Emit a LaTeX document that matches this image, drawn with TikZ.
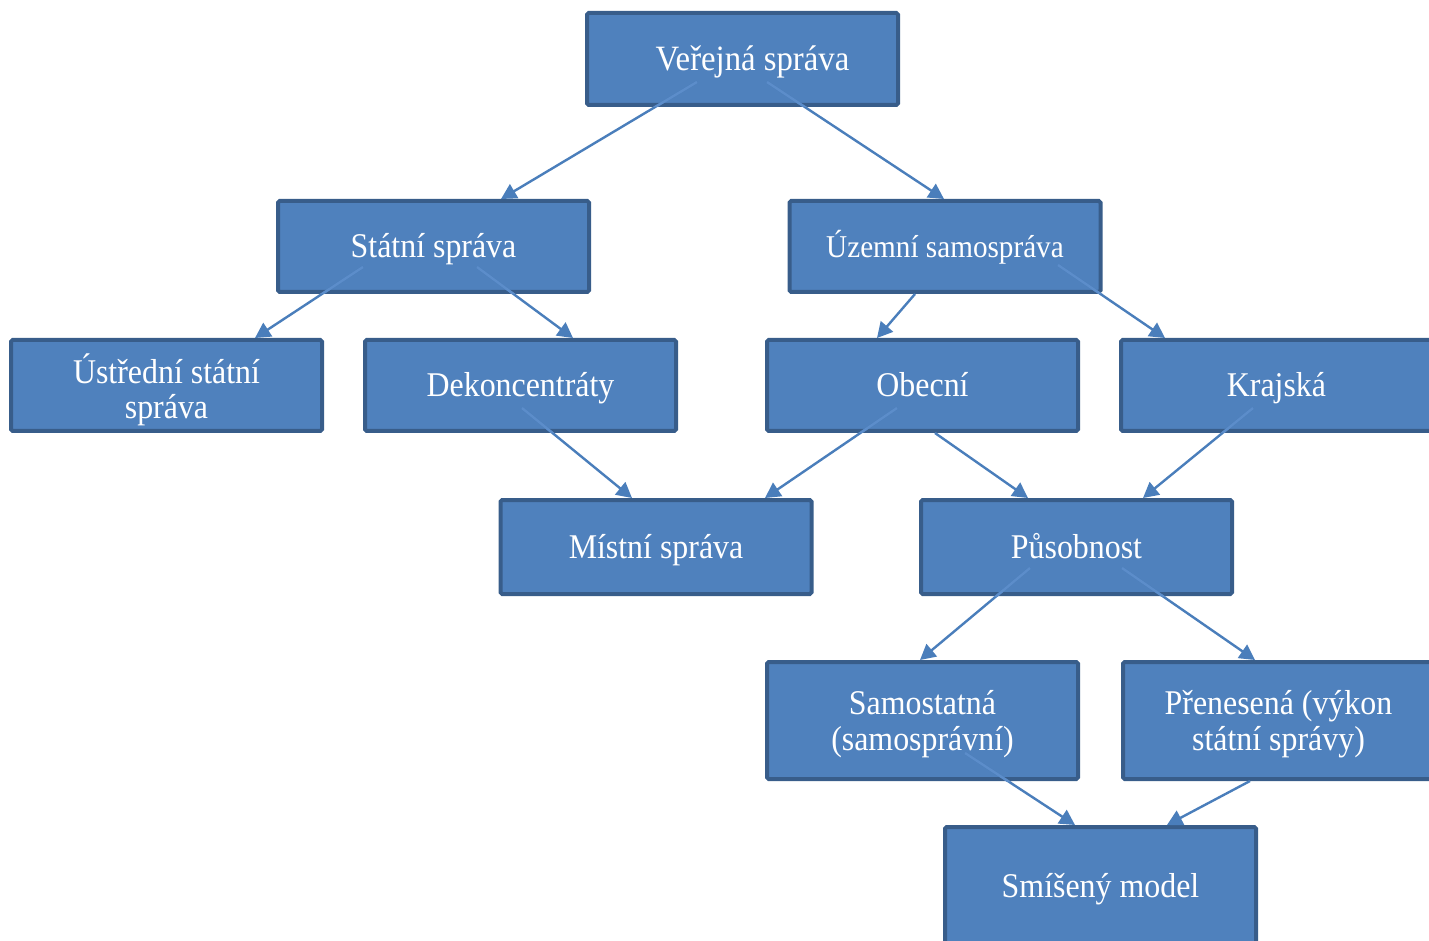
\documentclass[tikz,border=0pt]{standalone}
\usepackage{fontspec}
\setmainfont{Liberation Serif}
\newfontfamily\boxfont{Liberation Serif}[FakeStretch=0.92]
\usetikzlibrary{calc,arrows.meta}
\definecolor{boxfill}{HTML}{4F81BD}
\definecolor{boxline}{HTML}{385D8A}
\definecolor{conncol}{HTML}{4A7EBB}
\definecolor{innercol}{HTML}{5C8DCA}
\tikzset{
  orgbox/.style={draw=boxline, fill=boxfill, line width=3pt, rounded corners=1.2pt,
    text=white, align=center, inner sep=0pt,
    minimum width=233.25pt, minimum height=68.25pt,
    text height=20pt, text depth=2.75pt,
    font=\boxfont\fontsize{26pt}{27pt}\selectfont},
  tallbox/.style={orgbox, minimum height=87.75pt},
  twoline/.style={text height=47pt},
  conn/.style={draw=conncol, line width=1.8pt, -{Triangle[length=11.5pt,width=12pt]}},
  inseg/.style={draw=innercol, line width=1.8pt}
}
\begin{document}
\begin{tikzpicture}[x=0.75pt,y=-0.75pt]
\useasboundingbox (0,0) rectangle (1429,941);
% boxes
\node[orgbox, minimum height=69pt, font=\boxfont\fontsize{26.7pt}{27pt}\selectfont] (v) at (742.5,59) {\hspace*{15pt}Veřejná správa};
\node[orgbox] (s) at (433.5,246.5) {Státní správa};
\node[orgbox, font=\boxfont\fontsize{23.8pt}{27pt}\selectfont] (u) at (945,246.5) {Územní samospráva};
\node[orgbox, twoline, text height=53pt] (ust) at (166.5,385.5) {Ústřední státní\\správa};
\node[orgbox] (d) at (520.5,385.5) {Dekoncentráty};
\node[orgbox] (o) at (922.5,385.5) {Obecní};
\node[orgbox] (k) at (1276.5,385.5) {Krajská};
\node[orgbox, minimum height=70.5pt] (m) at (656,547) {Místní správa};
\node[orgbox, minimum height=70.5pt] (p) at (1076.5,547) {Působnost};
\node[tallbox, twoline] (sa) at (922.5,720.5) {Samostatná\\(samosprávní)};
\node[tallbox, twoline] (pr) at (1278.5,720.5) {Přenesená (výkon\\státní správy)};
\node[tallbox, minimum height=88.5pt] (sm) at (1100.5,886) {Smíšený model};
% connector end points
\coordinate (e1s) at ($(v)+(-45.5,23)$);   \coordinate (e1t) at ($(s.north)+(67.5,0)$);
\coordinate (e2s) at ($(v)+(24.5,23)$);    \coordinate (e2t) at ($(u.north)+(-1,0)$);
\coordinate (e3s) at ($(s)+(-70.5,20.5)$); \coordinate (e3t) at ($(ust.north)+(88.5,0)$);
\coordinate (e4s) at ($(s)+(43.5,20.5)$);  \coordinate (e4t) at ($(d.north)+(52.5,0)$);
\coordinate (e5s) at ($(u.south)+(-30,0)$); \coordinate (e5t) at ($(o.north)+(-45.5,0)$);
\coordinate (e6s) at ($(u)+(113,18.5)$);   \coordinate (e6t) at ($(k.north)+(-111.5,0)$);
\coordinate (e7s) at ($(d)+(1.5,22.5)$);   \coordinate (e7t) at ($(m.north)+(-24,0)$);
\coordinate (e8s) at ($(o)+(-25.5,22.5)$); \coordinate (e8t) at ($(m.north)+(109,0)$);
\coordinate (e9s) at ($(o.south)+(12.5,0)$); \coordinate (e9t) at ($(p.north)+(-48.5,0)$);
\coordinate (e10s) at ($(k)+(-23.5,22.5)$); \coordinate (e10t) at ($(p.north)+(66.5,0)$);
\coordinate (e11s) at ($(p)+(-46.5,21)$);  \coordinate (e11t) at ($(sa.north)+(-2.5,0)$);
\coordinate (e12s) at ($(p)+(45.5,21)$);   \coordinate (e12t) at ($(pr.north)+(-23.5,0)$);
\coordinate (e13s) at ($(sa)+(42.5,32.5)$); \coordinate (e13t) at ($(sm.north)+(-25.5,0)$);
\coordinate (e14s) at ($(pr.south)+(-28.5,0)$); \coordinate (e14t) at ($(sm.north)+(66.5,0)$);
% connectors
\foreach \i in {1,...,14} {\draw[conn] (e\i s) -- (e\i t);}
% lighter segments inside the source boxes
\foreach \src/\i in {v/1,v/2,s/3,s/4,u/6,d/7,o/8,k/10,p/11,p/12,sa/13} {
  \begin{scope}
    \clip (\src.south west) rectangle (\src.north east);
    \draw[inseg] (e\i s) -- (e\i t);
  \end{scope}
}
\end{tikzpicture}
\end{document}
